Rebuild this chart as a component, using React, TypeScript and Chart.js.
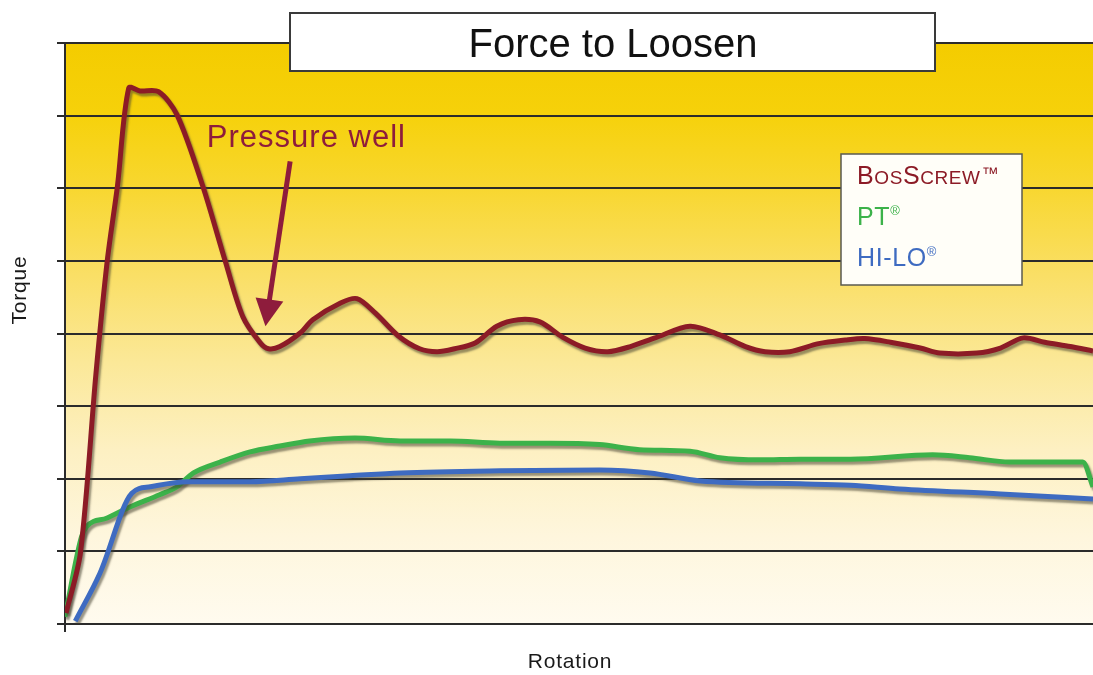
import React, { useEffect, useRef } from "react";
import { Chart, registerables } from "chart.js";

Chart.register(...registerables);

// ---- Data ----
const bosRotation = [0.1, 1.5, 3.0, 4.1, 5.1, 6.2, 7.3, 9.1, 10.9, 13.4, 15.6, 17.3, 19.0, 19.8, 20.9, 22.9, 24.1, 26.8, 28.4, 30.2, 32.4, 34.5, 36.2, 37.9, 39.9, 42.0, 44.1, 46.2, 48.4, 50.6, 52.8, 55.0, 57.4, 60.8, 63.7, 66.2, 68.1, 70.5, 73.3, 75.9, 77.8, 80.3, 83.2, 85.1, 88.7, 91.0, 93.2, 95.3, 97.8, 100];
const bosTorque = [0.15, 0.98, 3.43, 4.99, 6.03, 7.38, 7.34, 7.33, 7.01, 6.03, 4.99, 4.23, 3.87, 3.79, 3.82, 4.01, 4.19, 4.42, 4.48, 4.28, 3.97, 3.79, 3.75, 3.79, 3.87, 4.10, 4.19, 4.16, 3.95, 3.80, 3.75, 3.82, 3.94, 4.10, 3.98, 3.82, 3.75, 3.75, 3.86, 3.91, 3.93, 3.88, 3.80, 3.73, 3.73, 3.80, 3.94, 3.88, 3.82, 3.76];

const ptRotation = [0, 1.6, 2.1, 4.1, 6.3, 9.2, 10.9, 12.5, 15.1, 18.0, 20.9, 23.8, 28.2, 32.6, 37.5, 42.3, 47.2, 52.0, 55.9, 60.8, 63.7, 67.6, 71.5, 76.4, 84.4, 88.0, 91.9, 96.8, 99.0, 100];
const ptTorque = [0.10, 1.20, 1.34, 1.46, 1.61, 1.78, 1.89, 2.08, 2.23, 2.37, 2.45, 2.52, 2.56, 2.52, 2.52, 2.49, 2.49, 2.47, 2.40, 2.38, 2.29, 2.26, 2.27, 2.27, 2.33, 2.29, 2.23, 2.23, 2.23, 1.89];

const hiloRotation = [1.0, 3.4, 6.5, 8.3, 11.9, 18.0, 22.9, 27.7, 32.6, 42.3, 52.0, 56.9, 61.8, 71.5, 76.4, 81.2, 91.0, 100];
const hiloTorque = [0.04, 0.70, 1.80, 1.89, 1.96, 1.96, 2.00, 2.04, 2.08, 2.11, 2.12, 2.08, 1.97, 1.93, 1.91, 1.86, 1.79, 1.72];

const seriesNames = ["BosScrew™", "PT®", "HI-LO®"];
const seriesColors = ["#8C1B26", "#3CB24A", "#3E6BC1"];
const chartTitle = "Force to Loosen";
const xAxisTitle = "Rotation";
const yAxisTitle = "Torque";
const annotationText = "Pressure well";
// annotation anchor points in data units (rotation, torque)
const annotationLabelAt = [13.8, 6.57];
const annotationTailAt = [21.9, 6.37];
const annotationTipAt = [19.5, 4.10];

const FONT = '"Liberation Sans", Arial, Helvetica, sans-serif';

function pts(xs: number[], ys: number[]) {
  return xs.map((x, i) => ({ x, y: ys[i] }));
}

function drawLabel(ctx: CanvasRenderingContext2D, text: string, x: number, y: number, color: string, big: number, small: number) {
  ctx.fillStyle = color;
  ctx.textBaseline = "alphabetic";
  ctx.textAlign = "left";
  (ctx as any).letterSpacing = "0.6px";
  let cx = x;
  for (const ch of text) {
    if (ch === "®") {
      ctx.font = `${Math.round(big * 0.5)}px ${FONT}`;
      ctx.fillText(ch, cx, y - big * 0.42);
      cx += ctx.measureText(ch).width;
    } else if (ch === "™") {
      ctx.font = `${Math.round(big * 0.66)}px ${FONT}`;
      ctx.fillText(ch, cx + 1, y - big * 0.22);
      cx += ctx.measureText(ch).width + 1;
    } else if (ch >= "a" && ch <= "z") {
      ctx.font = `${small}px ${FONT}`;
      const u = ch.toUpperCase();
      ctx.fillText(u, cx, y);
      cx += ctx.measureText(u).width;
    } else {
      ctx.font = `${big}px ${FONT}`;
      ctx.fillText(ch, cx, y);
      cx += ctx.measureText(ch).width;
    }
  }
  (ctx as any).letterSpacing = "0px";
}

const decorPlugin = {
  id: "decor",
  beforeDraw(chart: any) {
    const { ctx, chartArea: a } = chart;
    const g = ctx.createLinearGradient(0, a.top, 0, a.bottom);
    g.addColorStop(0, "#F4CC00");
    g.addColorStop(0.12, "#F6D10A");
    g.addColorStop(0.25, "#F8D730");
    g.addColorStop(0.4, "#FADF66");
    g.addColorStop(0.55, "#FBE898");
    g.addColorStop(0.7, "#FDF0C2");
    g.addColorStop(0.85, "#FEF6DD");
    g.addColorStop(1, "#FFFBEF");
    ctx.save();
    ctx.fillStyle = g;
    ctx.fillRect(a.left, a.top, a.right - a.left, a.bottom - a.top);
    ctx.restore();
  },
  beforeDatasetDraw(chart: any) {
    const ctx = chart.ctx;
    ctx.save();
    ctx.shadowColor = "rgba(70,65,50,0.55)";
    ctx.shadowOffsetX = 2;
    ctx.shadowOffsetY = 3;
    ctx.shadowBlur = 2;
  },
  afterDatasetDraw(chart: any) {
    chart.ctx.restore();
  },
  afterDraw(chart: any) {
    const { ctx, scales } = chart;
    const xs = scales.x;
    const ys = scales.y;
    ctx.save();

    // Title box
    ctx.fillStyle = "#FFFFFF";
    ctx.fillRect(290, 13, 645, 58);
    ctx.strokeStyle = "#3a3a3a";
    ctx.lineWidth = 2;
    ctx.strokeRect(290, 13, 645, 58);
    ctx.fillStyle = "#111111";
    ctx.font = `40px ${FONT}`;
    ctx.textAlign = "center";
    ctx.textBaseline = "alphabetic";
    ctx.fillText(chartTitle, 613, 57);

    // Legend box
    ctx.fillStyle = "#FFFEF8";
    ctx.fillRect(841, 154, 181, 131);
    ctx.strokeStyle = "#5a5a50";
    ctx.lineWidth = 1.5;
    ctx.strokeRect(841, 154, 181, 131);
    const baselines = [184, 225, 266];
    seriesNames.forEach((name, i) => {
      drawLabel(ctx, name, 857, baselines[i], seriesColors[i], 25, 19);
    });

    // Annotation
    const annColor = "#8E1C3C";
    ctx.fillStyle = annColor;
    ctx.font = `31px ${FONT}`;
    ctx.textAlign = "left";
    (ctx as any).letterSpacing = "1px";
    ctx.fillText(annotationText, xs.getPixelForValue(annotationLabelAt[0]), ys.getPixelForValue(annotationLabelAt[1]));
    (ctx as any).letterSpacing = "0px";
    const tx = xs.getPixelForValue(annotationTailAt[0]);
    const ty = ys.getPixelForValue(annotationTailAt[1]);
    const hx = xs.getPixelForValue(annotationTipAt[0]);
    const hy = ys.getPixelForValue(annotationTipAt[1]);
    const dx = hx - tx, dy = hy - ty;
    const len = Math.hypot(dx, dy);
    const ux = dx / len, uy = dy / len;
    const headLen = 27, headHalf = 14;
    const bx = hx - ux * headLen, by = hy - uy * headLen;
    ctx.strokeStyle = annColor;
    ctx.lineWidth = 5;
    ctx.lineCap = "butt";
    ctx.beginPath();
    ctx.moveTo(tx, ty);
    ctx.lineTo(bx + ux * 2, by + uy * 2);
    ctx.stroke();
    ctx.beginPath();
    ctx.moveTo(hx, hy);
    ctx.lineTo(bx - uy * headHalf, by + ux * headHalf);
    ctx.lineTo(bx + uy * headHalf, by - ux * headHalf);
    ctx.closePath();
    ctx.fill();

    // Axis titles
    ctx.fillStyle = "#1a1a1a";
    ctx.font = `21px ${FONT}`;
    ctx.textAlign = "center";
    ctx.textBaseline = "middle";
    (ctx as any).letterSpacing = "0.8px";
    ctx.fillText(xAxisTitle, 570, 662);
    ctx.translate(20, 290);
    ctx.rotate(-Math.PI / 2);
    ctx.fillText(yAxisTitle, 0, 0);
    (ctx as any).letterSpacing = "0px";
    ctx.restore();
  },
};

export default function App() {
  const ref = useRef<HTMLCanvasElement | null>(null);

  useEffect(() => {
    if (!ref.current) return;
    const mk = (label: string, xs: number[], ys: number[], color: string, smooth: boolean) => ({
      label,
      data: pts(xs, ys),
      borderColor: color,
      backgroundColor: color,
      borderWidth: 5,
      pointRadius: 0,
      tension: smooth ? 0.3 : 0,
      cubicInterpolationMode: smooth ? ("default" as const) : ("monotone" as const),
      fill: false,
    });
    const chart = new Chart(ref.current, {
      type: "line",
      data: {
        datasets: [
          mk(seriesNames[0], bosRotation, bosTorque, seriesColors[0], true),
          mk(seriesNames[2], hiloRotation, hiloTorque, seriesColors[2], false),
          mk(seriesNames[1], ptRotation, ptTorque, seriesColors[1], false),
        ],
      },
      options: {
        animation: false,
        responsive: false,
        devicePixelRatio: 1,
        layout: { padding: { top: 43, left: 0, right: 0, bottom: 0 } },
        plugins: {
          legend: { display: false },
          title: { display: false },
          tooltip: { enabled: false },
        },
        scales: {
          x: {
            type: "linear",
            min: 0,
            max: 100,
            ticks: { display: false, stepSize: 100 },
            grid: {
              drawOnChartArea: false,
              drawTicks: true,
              tickLength: 8,
              lineWidth: 2,
              color: (c: any) => (c.tick && c.tick.value === 0 ? "#2b2b2b" : "rgba(0,0,0,0)"),
            },
            border: { display: false },
            afterFit: (s: any) => {
              s.height = 51;
            },
          },
          y: {
            type: "linear",
            min: 0,
            max: 8,
            ticks: { display: false, stepSize: 1 },
            grid: { color: "#2b2b2b", lineWidth: 2, drawTicks: true, tickLength: 8 },
            border: { display: true, color: "#2b2b2b", width: 2 },
            afterFit: (s: any) => {
              s.width = 65;
            },
          },
        },
      },
      plugins: [decorPlugin],
    });
    return () => chart.destroy();
  }, []);

  return (
    <div style={{ position: "absolute", left: 0, top: 0, width: 1093, height: 675, background: "#fff" }}>
      <canvas ref={ref} width={1093} height={675} style={{ display: "block" }} />
    </div>
  );
}
